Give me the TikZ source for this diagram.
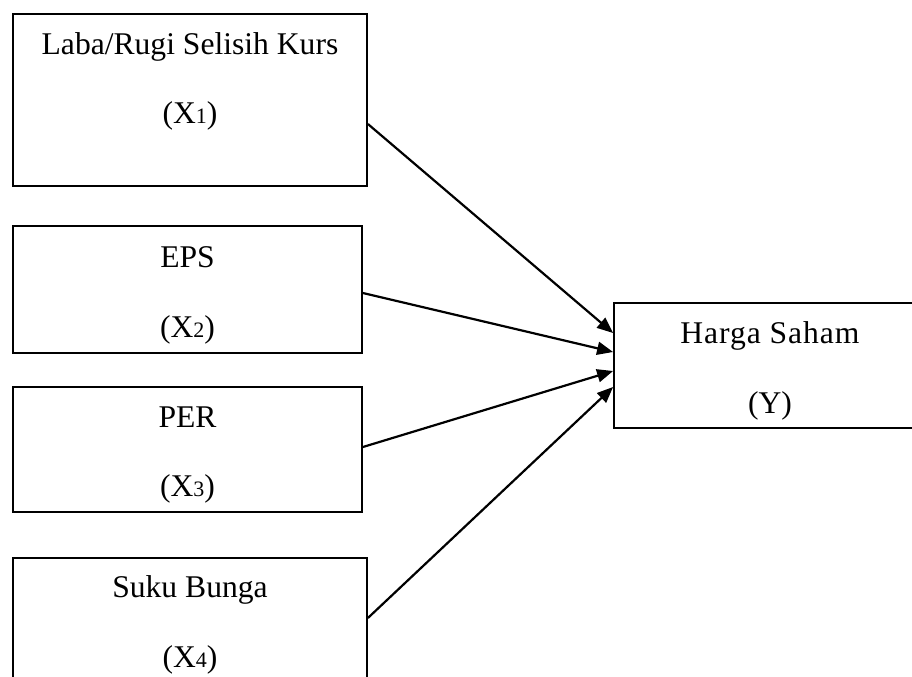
\documentclass[tikz,border=0pt]{standalone}
\usepackage{fontspec}
\setmainfont{Liberation Serif}
\usetikzlibrary{arrows.meta}
\newcommand{\idx}[1]{{\fontsize{11}{11}\selectfont #1}}

\begin{document}
\begin{tikzpicture}[x=0.5pt, y=-0.5pt, font=\fontsize{15.8}{19}\selectfont,
  var/.style={draw, line width=0.9pt, inner sep=0pt},
  txt/.style={anchor=base, inner sep=0pt},
  arr/.style={-{Triangle[length=8pt,width=6.5pt]}, line width=1.1pt}]
\path[use as bounding box, clip] (0,0) rectangle (912,676);
\node[var, minimum width=177pt, minimum height=86pt] (x1) at (190,100) {};
\node[var, minimum width=174.5pt, minimum height=63.5pt] (x2) at (187.5,289.5) {};
\node[var, minimum width=174.5pt, minimum height=62.5pt] (x3) at (187.5,449.5) {};
\node[var, minimum width=177pt, minimum height=63pt] (x4) at (190,621) {};
\node[var, minimum width=156pt, minimum height=62.5pt] (y) at (770,365.5) {};
\node[txt] (x1a) at (190,54) {Laba/Rugi Selisih Kurs};
\node[txt] (x1b) at (190,123) {(X\idx{1})};
\node[txt] (x2a) at (187.5,267) {EPS};
\node[txt] (x2b) at (187.5,337) {(X\idx{2})};
\node[txt] (x3a) at (187.5,427) {PER};
\node[txt] (x3b) at (187.5,496) {(X\idx{3})};
\node[txt] (x4a) at (190,597) {Suku Bunga};
\node[txt] (x4b) at (190,667) {(X\idx{4})};
\node[txt] (ya) at (770,343) {\addfontfeature{LetterSpace=3}Harga Saham};
\node[txt] (yb) at (770,413) {(Y)};
\draw[arr] ([yshift=-12pt]x1.east) -- ([yshift=16.25pt]y.west);
\draw[arr] ([yshift=-1.75pt]x2.east) -- ([yshift=6.75pt]y.west);
\draw[arr] ([yshift=1.25pt]x3.east) -- ([yshift=-2.75pt]y.west);
\draw[arr] ([yshift=1.5pt]x4.east) -- ([yshift=-10.75pt]y.west);
\end{tikzpicture}
\end{document}
